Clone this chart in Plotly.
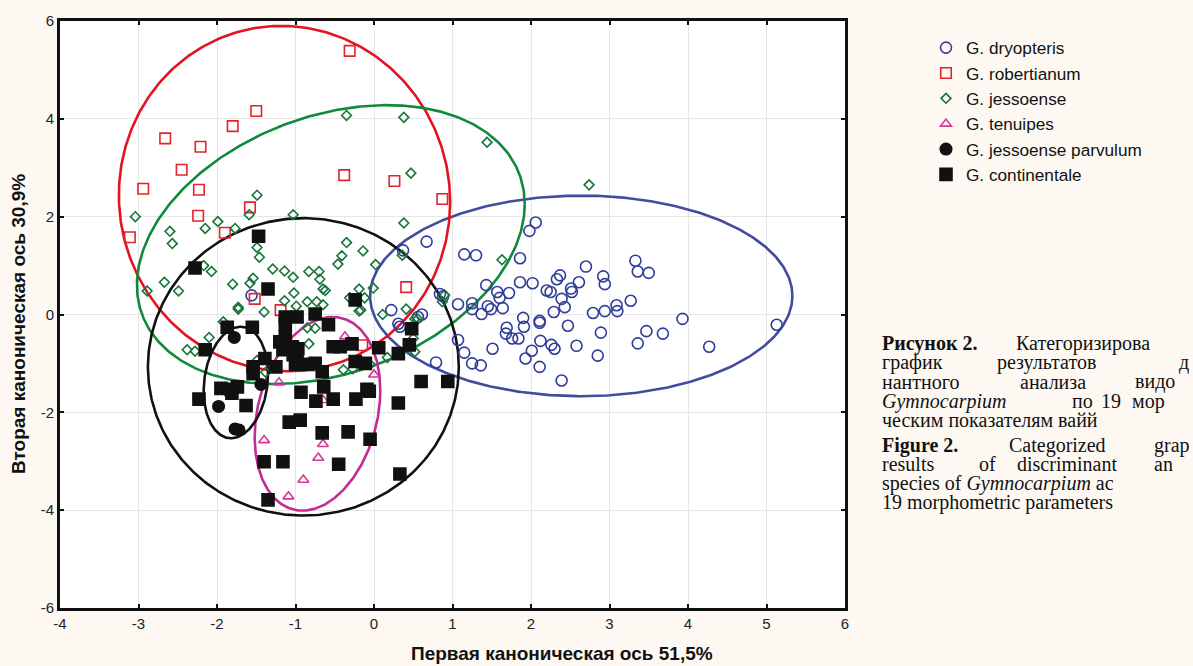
import numpy as np
import plotly.graph_objects as go

# ---------------- data ----------------
dryopteris_x = [2.06, 1.98, 0.67, 1.15, 1.30, 1.86, 2.70, 2.37, 2.33, 2.92, 2.94, 1.43, 1.86, 2.02, 2.61,
                2.20, 2.25, 2.51, 2.52, 1.57, 1.60, 1.72, 2.39, 2.43, 1.07, 1.25, 1.25, 1.37, 1.45, 1.49,
                1.64, 2.79, 2.94, 3.09, 2.29, 1.90, 1.91, 2.11, 2.11, 1.69, 1.68, 1.76, 1.84, 2.47, 2.89,
                2.12, 2.26, 2.30, 2.58, 2.85, 2.01, 1.93, 2.11, 2.39, 1.51, 1.07, 1.15, 1.25, 1.36, 0.79,
                0.84, 0.61, 3.33, 3.36, 3.50, 3.27, 3.10, 3.93, 5.13, 3.47, 3.68, 3.36, 4.27, 0.37, 0.88,
                0.22, 0.31, 0.33, 0.56, -1.56]
dryopteris_y = [1.88, 1.71, 1.49, 1.23, 1.21, 1.15, 0.98, 0.80, 0.72, 0.78, 0.62, 0.60, 0.66, 0.64, 0.66,
                0.49, 0.46, 0.53, 0.46, 0.46, 0.34, 0.44, 0.32, 0.15, 0.21, 0.23, 0.11, 0.01, 0.17, 0.11,
                0.13, 0.03, 0.07, 0.19, 0.05, -0.07, -0.25, -0.13, -0.17, -0.27, -0.39, -0.49, -0.49, -0.23, -0.37,
                -0.54, -0.62, -0.70, -0.64, -0.84, -0.74, -0.90, -1.07, -1.35, -0.70, -0.52, -0.78, -1.00, -1.04, -0.98,
                0.42, 0.00, 1.10, 0.88, 0.85, 0.28, 0.07, -0.09, -0.21, -0.34, -0.39, -0.59, -0.66, 1.31, 0.37,
                0.09, -0.19, -0.25, -0.05, 0.39]

robertianum_x = [-0.31, -1.50, -1.80, -2.66, -2.21, -2.45, -2.94, -2.23, -2.24, -3.11, -1.90, -1.58, -0.38,
                 0.26, 0.87, -1.52, -1.19, 0.41, -0.15]
robertianum_y = [5.39, 4.16, 3.85, 3.60, 3.43, 2.96, 2.57, 2.55, 2.02, 1.58, 1.67, 2.19, 2.85,
                 2.73, 2.36, 0.32, 0.09, 0.56, -0.63]

jessoense_x = [-3.04, -2.60, -2.57, -1.99, -2.15, -1.77, -1.59, -1.49, -1.49, -1.46, -1.03, -0.35, -2.17,
               -2.07, -2.67, -2.49, -2.89, -1.80, -1.58, -1.54, -1.29, -1.14, -1.03, -0.83, -0.70, -0.69,
               -0.65, -0.62, -0.35, -0.41, -0.46, -0.14, 0.02, -0.19, -0.01, -0.31, -0.12, -0.17, 0.11,
               -1.02, -1.14, -0.99, -0.85, -0.73, -0.65, -1.73, -1.73, -1.40, -1.92, 0.38, 1.44, 0.47,
               2.74, 0.38, 1.63, 0.36, 0.90, 0.87, 0.41, -2.10, -2.38, -2.28, -0.85, -0.75, -0.83, -0.39,
               -0.27, 0.17, 0.50, 0.52, -1.49, -1.38, -0.05, 0.52, 0.56, -0.19]
jessoense_y = [2.00, 1.70, 1.45, 1.90, 1.76, 1.76, 2.04, 2.44, 1.37, 1.17, 2.04, 4.07, 1.00,
               0.88, 0.66, 0.48, 0.48, 0.62, 0.64, 0.74, 0.93, 0.89, 0.76, 0.88, 0.88, 0.72,
               0.52, 0.49, 1.47, 1.20, 1.03, 1.30, 1.02, 0.52, 0.54, 0.34, 0.34, 0.09, 0.00,
               0.44, 0.28, 0.17, 0.26, 0.26, 0.20, 0.15, 0.11, 0.05, -0.15, 4.03, 3.52, 2.89,
               2.65, 1.87, 1.12, 1.21, 0.40, 0.26, 0.11, -0.47, -0.72, -0.75, -0.27, -0.28, -0.60, -1.13,
               -1.11, -0.88, -0.49, -0.76, -0.94, -1.18, -1.02, -0.09, -0.09, 0.07]

tenuipes_x = [-0.37, -1.21, 0.00, -0.65, -1.40, -0.65, -0.71, -0.90, -1.09]
tenuipes_y = [-0.45, -1.39, -1.23, -1.75, -2.57, -2.65, -2.93, -3.38, -3.72]

parvulum_x = [-1.78, -1.44, -1.98, -1.77, -1.72]
parvulum_y = [-0.47, -1.43, -1.88, -2.34, -2.36]

continentale_x = [-1.47, -2.28, -1.35, -0.24, -1.87, -1.55, -1.13, -1.13, -0.98, -0.75, -0.58, 0.48,
                  -2.15, -1.20, -1.13, -1.04, -1.16, -0.98, -0.97, -1.03, -1.00, -1.39, -1.54, -1.54,
                  -1.25, -0.84, -0.75, -0.66, -0.52, -0.43, -0.28, -0.24, -0.11, 0.06, 0.31, 0.45,
                  0.60, 0.94, -1.95, -1.82, -1.81, -1.74, -2.23, -1.63, -0.93, -0.74, -0.52, -0.64,
                  -0.23, -0.09, -0.06, 0.31, -1.08, -0.94, -0.66, -0.33, -0.05, -1.40, -1.16, -0.45,
                  0.33, -1.35]
continentale_y = [1.60, 0.95, 0.52, 0.30, -0.26, -0.26, -0.05, -0.20, -0.05, 0.01, -0.21, -0.29,
                  -0.72, -0.56, -0.45, -0.66, -0.72, -0.80, -0.70, -0.82, -1.02, -0.90, -1.07, -1.21,
                  -1.07, -1.02, -1.00, -1.17, -0.66, -0.66, -0.60, -0.96, -1.00, -0.68, -0.80, -0.62,
                  -1.37, -1.37, -1.51, -1.53, -1.61, -1.48, -1.73, -1.86, -1.59, -1.77, -1.73, -1.48,
                  -1.73, -1.53, -1.57, -1.81, -2.20, -2.16, -2.42, -2.40, -2.55, -3.01, -3.01, -3.06,
                  -3.26, -3.79]

species = ["G. dryopteris", "G. robertianum", "G. jessoense", "G. tenuipes",
           "G. jessoense parvulum", "G. continentale"]

# ellipse parameters: centre x, centre y, half-width, half-height, correlation
ell_cx = [2.64, -1.14, -0.55, -0.72, -1.76, -0.90]
ell_cy = [0.38, 2.37, 1.43, -2.03, -1.39, -1.07]
ell_w = [2.69, 2.11, 2.47, 0.80, 0.41, 1.98]
ell_h = [2.05, 3.53, 2.85, 1.98, 1.14, 3.04]
ell_r = [0.0, -0.02, 0.29, 0.24, 0.15, 0.0]

x_ticks = [-4, -3, -2, -1, 0, 1, 2, 3, 4, 5, 6]
x_tick_text = ["-4", "-3", "-2", "-1", "0", "1", "2", "3", "4", "5", "6"]
y_ticks = [-6, -4, -2, 0, 2, 4, 6]
y_tick_text = ["-6", "-4", "-2", "0", "2", "4", "6"]

x_title = "Первая каноническая ось 51,5%"
y_title = "Вторая каноническая ось 30,9%"

# caption words as visible in the picture (cut by the right edge there)
caption_words = [
    ("<b>Рисунок 2.</b>", 880, 342), ("Категоризирова", 1014, 342),
    ("график", 880, 361), ("результатов", 995, 361), ("д", 1177, 361),
    ("нантного", 880, 380), ("анализа", 1018, 380), ("видо", 1133, 380),
    ("<i>Gymnocarpium</i>", 880, 400), ("по", 1070, 400), ("19", 1099, 400), ("мор", 1130, 400),
    ("ческим показателям вайй", 880, 419),
    ("<b>Figure 2.</b>", 880, 444), ("Categorized", 1007, 444), ("grap", 1152, 444),
    ("results", 880, 463), ("of", 977, 463), ("discriminant", 1015, 463), ("an", 1152, 463),
    ("species of <i>Gymnocarpium</i> ac", 880, 483),
    ("19 morphometric parameters", 880, 502),
]

# ---------------- styles ----------------
marker_color = ["#2f3d9a", "#e3232c", "#17753a", "#d4379a", "#111111", "#111111"]
line_color = ["#424c9f", "#e3131f", "#0f8a3c", "#c42b95", "#111111", "#111111"]
symbols = ["circle-open", "square-open", "diamond-open", "triangle-up-open", "circle", "square"]
sizes = [11, 10.5, 7.5, 9.5, 11.5, 12]

W, H = 1193, 666
L, R, T, B = 60, 348, 17, 58
PW, PH = W - L - R, H - T - B


def px_to_paper(px, py):
    return (px - L) / PW, (H - B - py) / PH


fig = go.Figure()

t = np.linspace(0, 2 * np.pi, 400)
for i in range(6):
    ex = ell_cx[i] + ell_w[i] * np.cos(t)
    ey = ell_cy[i] + ell_h[i] * (ell_r[i] * np.cos(t) + np.sqrt(1 - ell_r[i] ** 2) * np.sin(t))
    fig.add_trace(go.Scatter(x=ex, y=ey, mode="lines", line=dict(color=line_color[i], width=2.6),
                             showlegend=False, hoverinfo="skip"))

xs = [dryopteris_x, robertianum_x, jessoense_x, tenuipes_x, parvulum_x, continentale_x]
ys = [dryopteris_y, robertianum_y, jessoense_y, tenuipes_y, parvulum_y, continentale_y]
for i in range(6):
    fig.add_trace(go.Scatter(
        x=xs[i], y=ys[i], mode="markers", name=species[i],
        marker=dict(symbol=symbols[i], size=sizes[i], color=marker_color[i],
                    line=dict(width=1.6, color=marker_color[i]))))

axis_common = dict(showgrid=True, gridcolor="#e6e6e6", gridwidth=1, zeroline=False,
                   showline=True, linecolor="#111111", linewidth=3, mirror="allticks",
                   ticks="inside", ticklen=4, tickwidth=2, tickcolor="#111111",
                   tickfont=dict(family="Liberation Sans, Arial", size=15, color="#222222"))

fig.update_xaxes(range=[-4, 6], tickmode="array", tickvals=x_ticks, ticktext=x_tick_text, **axis_common)
fig.update_yaxes(range=[-6, 6], tickmode="array", tickvals=y_ticks, ticktext=y_tick_text, **axis_common)

annotations = []
ax, ay = px_to_paper(562, 654)
annotations.append(dict(text="<b>" + x_title + "</b>", x=ax, y=ay, xref="paper", yref="paper",
                        xanchor="center", yanchor="middle", showarrow=False,
                        font=dict(family="Liberation Sans, Arial", size=19, color="#111111")))
ax, ay = px_to_paper(19, 322)
annotations.append(dict(text="<b>" + y_title + "</b>", x=ax, y=ay, xref="paper", yref="paper",
                        xanchor="center", yanchor="middle", showarrow=False, textangle=-90,
                        font=dict(family="Liberation Sans, Arial", size=19, color="#111111")))
for txt, px, py in caption_words:
    ax, ay = px_to_paper(px, py)
    annotations.append(dict(text=txt, x=ax, y=ay, xref="paper", yref="paper",
                            xanchor="left", yanchor="middle", showarrow=False,
                            font=dict(family="Liberation Serif, Times New Roman", size=20, color="#111111")))

lx, ly = px_to_paper(926, 26)
fig.update_layout(
    width=W, height=H, autosize=False,
    margin=dict(l=L, r=R, t=T, b=B, pad=0),
    paper_bgcolor="#fdf9f2", plot_bgcolor="#ffffff",
    showlegend=True,
    legend=dict(x=lx, y=ly, xanchor="left", yanchor="top", bgcolor="rgba(0,0,0,0)",
                font=dict(family="Liberation Sans, Arial", size=17.2, color="#111111"),
                tracegroupgap=0, itemsizing="trace"),
    annotations=annotations,
)

fig.write_html("out.html", config={"displayModeBar": False},
               post_script="document.body.style.margin='0';")
